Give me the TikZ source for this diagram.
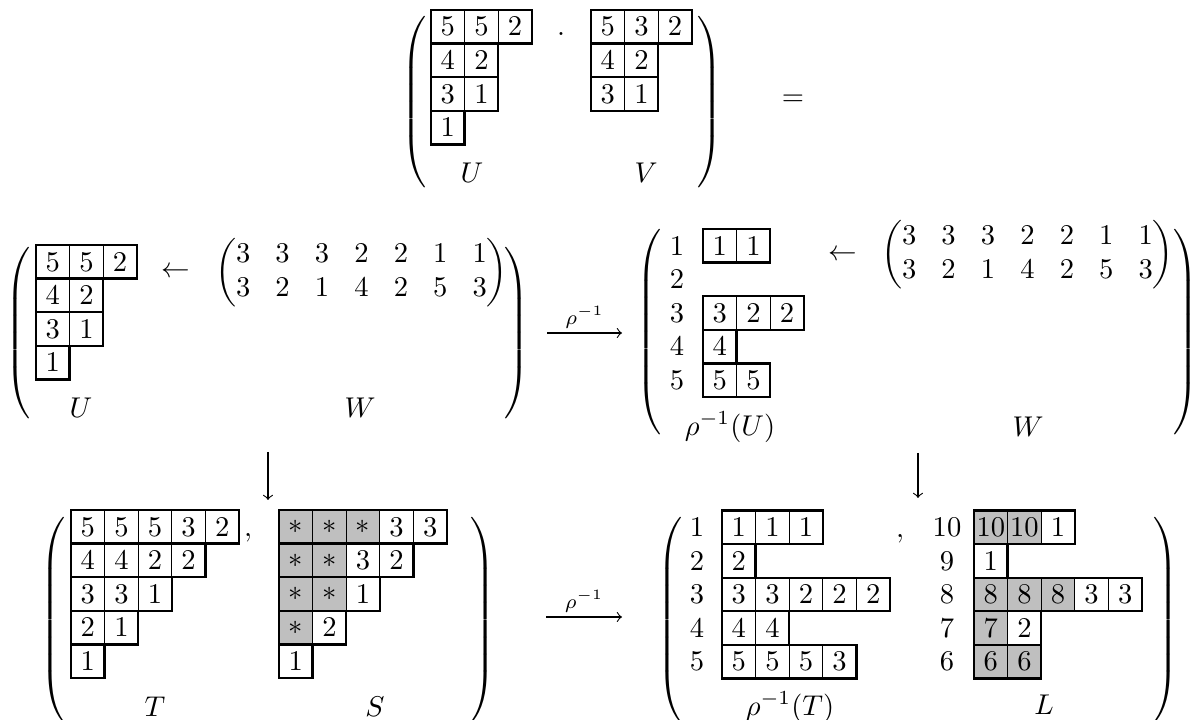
\documentclass[tikz,border=0pt]{standalone}
\usepackage{amsmath}
\usepackage{xcolor}
\usepackage{tikz}
\usetikzlibrary{arrows}

\colorlet{w}{white}
\colorlet{g}{black!25}
\setlength{\arraycolsep}{4.4pt}

\newcommand{\tableau}[4]{%
  \foreach \ri/\len/\cells in {#4} {
    \foreach \f/\val [count=\i] in \cells
      \node[cell, fill=\f] (#1-\ri-\i) at ({#2+33.6*(\i-1)},{#3+33.6*(\ri-1)}) {$\val$};
    \draw[rowline] (#1-\ri-1.north west) rectangle (#1-\ri-\len.south east);
  }
}
\newcommand{\openp}[1]{$\delimitershortfall=0pt\delimiterfactor=1000\left(\vcenter{\hbox{\rule{0pt}{#1}}}\right.$}
\newcommand{\closep}[1]{$\delimitershortfall=0pt\delimiterfactor=1000\left.\vcenter{\hbox{\rule{0pt}{#1}}}\right)$}

\begin{document}
\begin{tikzpicture}[
    x=0.35pt, y=-0.35pt,
    cell/.style={draw, line width=0.4pt, anchor=north west, minimum size=11.76pt, inner sep=0pt, outer sep=0pt},
    rowline/.style={line width=0.8pt},
    paren/.style={inner sep=0pt},
    arrow/.style={->,>=to, line width=0.4pt}
]
\useasboundingbox (0,0) rectangle (1190,720);

\node[paren] (topl) at (416,102) {\openp{58pt}};
\tableau{u}{431}{10}{1/3/{w/5,w/5,w/2}, 2/2/{w/4,w/2}, 3/2/{w/3,w/1}, 4/1/{w/1}}
\node[anchor=base] (dot) at (561,36) {.};
\tableau{v}{591}{10}{1/3/{w/5,w/3,w/2}, 2/2/{w/4,w/2}, 3/2/{w/3,w/1}}
\node (ulab) at (472,173) {$U$};
\node (vlab) at (646,173) {$V$};
\node[paren] (topr) at (708,102) {\closep{58pt}};
\node (eq) at (793,100) {$=$};

\node[paren] (mll) at (20,333) {\openp{57pt}};
\tableau{ul}{36}{245}{1/3/{w/5,w/5,w/2}, 2/2/{w/4,w/2}, 3/2/{w/3,w/1}, 4/1/{w/1}}
\node (larr) at (176,272) {$\leftarrow$};
\node (wl) at (361.5,272.5) {$\begin{pmatrix} 3&3&3&2&2&1&1\\ 3&2&1&4&2&5&3 \end{pmatrix}$};
\node (ullab) at (81,408) {$U$};
\node (wllab) at (360,408) {$W$};
\node[paren] (mlr) at (515,333) {\closep{57pt}};

\coordinate (rho1a) at (547,333);
\coordinate (rho1b) at (622,333);
\draw[arrow] (rho1a) -- node[above, inner sep=1.5pt] (rho1) {$\scriptstyle\rho^{-1}$} (rho1b);

\node[paren] (mrl) at (651,332) {\openp{68pt}};
\foreach \k [count=\r] in {1,...,5}
  \node (ru-lab-\r) at (677,{229+33.6*(\r-0.5)}) {$\k$};
\tableau{ru}{703}{229}{1/2/{w/1,w/1}, 3/3/{w/3,w/2,w/2}, 4/1/{w/4}, 5/2/{w/5,w/5}}
\node (rarr) at (843,255) {$\leftarrow$};
\node (wr) at (1027.5,255) {$\begin{pmatrix} 3&3&3&2&2&1&1\\ 3&2&1&4&2&5&3 \end{pmatrix}$};
\node (rulab) at (730,427) {$\rho^{-1}(U)$};
\node (wrlab) at (1028,427) {$W$};
\node[paren] (mrr) at (1184,332) {\closep{68pt}};

\coordinate (downla) at (268,452);
\coordinate (downlb) at (268,500);
\draw[arrow] (downla) -- (downlb);
\coordinate (downra) at (918,453);
\coordinate (downrb) at (918,498);
\draw[arrow] (downra) -- (downrb);

\node[paren] (bll) at (55,620) {\openp{70pt}};
\tableau{t}{71}{510}{1/5/{w/5,w/5,w/5,w/3,w/2}, 2/4/{w/4,w/4,w/2,w/2}, 3/3/{w/3,w/3,w/1}, 4/2/{w/2,w/1}, 5/1/{w/1}}
\node[anchor=base] (comma1) at (248,536) {$,$};
\tableau{s}{279}{510}{1/5/{g/*,g/*,g/*,w/3,w/3}, 2/4/{g/*,g/*,w/3,w/2}, 3/3/{g/*,g/*,w/1}, 4/2/{g/*,w/2}, 5/1/{w/1}}
\node (tlab) at (155,707) {$T$};
\node (slab) at (375,707) {$S$};
\node[paren] (blr) at (481,620) {\closep{70pt}};

\coordinate (rho2a) at (546,617);
\coordinate (rho2b) at (622,617);
\draw[arrow] (rho2a) -- node[above, inner sep=1.5pt] (rho2) {$\scriptstyle\rho^{-1}$} (rho2b);

\node[paren] (brl) at (672,620) {\openp{70pt}};
\foreach \k [count=\r] in {1,...,5}
  \node (rt-lab-\r) at (697,{510.5+33.6*(\r-0.5)}) {$\k$};
\tableau{rt}{722}{510.5}{1/3/{w/1,w/1,w/1}, 2/1/{w/2}, 3/5/{w/3,w/3,w/2,w/2,w/2}, 4/2/{w/4,w/4}, 5/4/{w/5,w/5,w/5,w/3}}
\node[anchor=base] (comma2) at (900,537) {$,$};
\foreach \k [count=\r] in {10,9,8,7,6}
  \node (l-lab-\r) at (947,{510.5+33.6*(\r-0.5)}) {$\k$};
\tableau{l}{974}{510.5}{1/3/{g/10,g/10,w/1}, 2/1/{w/1}, 3/5/{g/8,g/8,g/8,w/3,w/3}, 4/2/{g/7,w/2}, 5/2/{g/6,g/6}}
\node (rtlab) at (790,707) {$\rho^{-1}(T)$};
\node (llab) at (1044,705) {$L$};
\node[paren] (brr) at (1164,620) {\closep{70pt}};
\end{tikzpicture}
\end{document}
